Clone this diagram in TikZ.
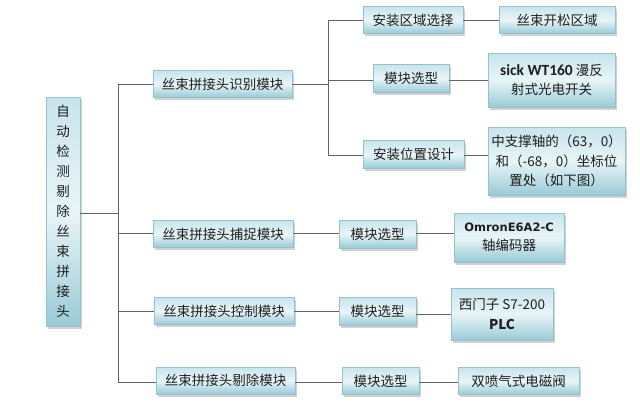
\documentclass[tikz,border=0pt]{standalone}
\usepackage{fontspec}
\setmainfont{Noto Sans CJK SC}
\newfontfamily\latinb{Carlito}
\newfontfamily\omronf{DejaVu Sans}
\usetikzlibrary{shadows}
\definecolor{boxtop}{HTML}{C8E4EC}
\definecolor{boxmid}{HTML}{E8F5F8}
\definecolor{boxbot}{HTML}{9ACAD6}
\definecolor{boxline}{HTML}{95C2CE}
\definecolor{conn}{HTML}{636363}
\definecolor{txt}{HTML}{1E1E1E}
\tikzset{
  box/.style={draw=boxline, line width=0.4pt, top color=boxtop, bottom color=boxbot, middle color=boxmid,
    drop shadow={shadow xshift=2pt, shadow yshift=-2.5pt, fill=black, opacity=0.18},
    inner sep=0pt, align=center, text=txt, font=\fontsize{13.5}{19.5}\selectfont},
  link/.style={draw=conn, line width=0.8pt}
}
\begin{document}
\begin{tikzpicture}[x=1pt,y=-1pt]
\useasboundingbox (0,0) rectangle (640,413);
\fill[white] (0,0) rectangle (640,413);
% root
\node[box, minimum width=34pt, minimum height=229pt, font=\fontsize{13.5}{20}\selectfont] (root) at (63,211.5)
  {自\\动\\检\\测\\剔\\除\\丝\\束\\拼\\接\\头};
% level 1
\node[box, minimum width=139pt, minimum height=27pt] (a1) at (222.5,84) {丝束拼接头识别模块};
\node[box, minimum width=140pt, minimum height=27pt] (a2) at (223,234) {丝束拼接头捕捉模块};
\node[box, minimum width=140pt, minimum height=27pt] (a3) at (224,311) {丝束拼接头控制模块};
\node[box, minimum width=139pt, minimum height=27pt] (a4) at (225.5,380.5) {丝束拼接头剔除模块};
% level 2
\node[box, minimum width=100pt, minimum height=27pt] (b1) at (413,20) {安装区域选择};
\node[box, minimum width=76pt, minimum height=28pt] (b2) at (411,78.5) {模块选型};
\node[box, minimum width=101pt, minimum height=28pt] (b3) at (413.5,154.5) {安装位置设计};
\node[box, minimum width=77pt, minimum height=28pt] (d2) at (377.5,234) {模块选型};
\node[box, minimum width=77pt, minimum height=28pt] (d3) at (377.5,311.5) {模块选型};
\node[box, minimum width=77pt, minimum height=27pt] (d4) at (380.5,381) {模块选型};
% level 3
\node[box, minimum width=116pt, minimum height=27pt] (c1) at (557,20) {丝束开松区域};
\node[box, minimum width=127pt, minimum height=54pt] (c2) at (551.5,80)
  {{\latinb\bfseries\fontsize{15.5}{19.5}\selectfont sick WT160} 漫反\\射式光电开关};
\node[box, minimum width=137pt, minimum height=68pt] (c3) at (556.5,161)
  {中支撑轴的（63，0）\\和（-68，0）坐标位\\置处（如下图）};
\node[box, minimum width=110pt, minimum height=49pt] (e2) at (509,237.5)
  {{\omronf\bfseries\fontsize{11.5}{19}\selectfont OmronE6A2-C}\\轴编码器};
\node[box, minimum width=102pt, minimum height=52pt] (e3) at (502,314)
  {西门子 S7-200\\{\bfseries PLC}};
\node[box, minimum width=121pt, minimum height=27pt] (e4) at (518.5,381) {双喷气式电磁阀};
% trunk coordinates
\coordinate (t0) at (118,84);
\coordinate (t1) at (118,382);
\coordinate (u0) at (328,20);
\coordinate (u1) at (328,155);
% connectors
\draw[link] (root.east |- 0,213) -- (118,213);
\draw[link] (t0) -- (t1);
\draw[link] (t0) -- (a1.west |- t0);
\draw[link] (118,233) -- (a2.west |- 0,233);
\draw[link] (118,311.5) -- (a3.west |- 0,311.5);
\draw[link] (t1) -- (a4.west |- t1);
\draw[link] (a1.east |- t0) -- (328,84);
\draw[link] (u0) -- (u1);
\draw[link] (u0) -- (b1.west |- u0);
\draw[link] (328,80) -- (b2.west |- 0,80);
\draw[link] (u1) -- (b3.west |- u1);
\draw[link] (b1.east |- u0) -- (c1.west |- u0);
\draw[link] (b2.east |- 0,80) -- (c2.west |- 0,80);
\draw[link] (b3.east |- u1) -- (c3.west |- u1);
\draw[link] (a2.east |- 0,233) -- (d2.west |- 0,233);
\draw[link] (d2.east |- 0,233) -- (e2.west |- 0,233);
\draw[link] (a3.east |- 0,311.5) -- (d3.west |- 0,311.5);
\draw[link] (d3.east |- 0,314) -- (e3.west |- 0,314);
\draw[link] (a4.east |- t1) -- (d4.west |- t1);
\draw[link] (d4.east |- t1) -- (e4.west |- t1);
\end{tikzpicture}
\end{document}
